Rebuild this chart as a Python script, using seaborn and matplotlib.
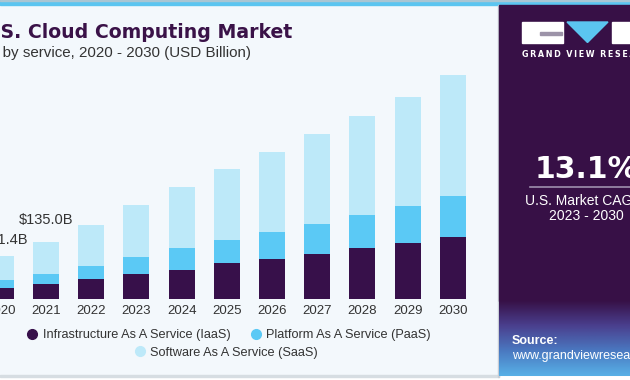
import matplotlib
matplotlib.use("Agg")
import matplotlib.pyplot as plt
import numpy as np
import pandas as pd
import seaborn as sns
from matplotlib.colors import LinearSegmentedColormap
from matplotlib.lines import Line2D
from matplotlib.patches import Polygon, Rectangle

# values (USD billion)
years = ["2020", "2021", "2022", "2023", "2024", "2025", "2026", "2027", "2028", "2029", "2030"]
iaas = [24.9, 35.2, 47.2, 59.1, 68.7, 84.7, 94.3, 107.0, 120.6, 132.6, 148.4]
paas = [19.9, 23.2, 31.1, 41.4, 51.5, 55.8, 65.3, 72.5, 79.7, 89.3, 97.4]
saas = [56.6, 76.6, 98.1, 123.8, 147.9, 169.9, 192.2, 214.7, 236.3, 261.6, 289.6]
labelled_years = ["2020", "2021"]
label_offsets = [7.0, 11.0]  # points above the bar

series_names = [
    "Infrastructure As A Service (IaaS)",
    "Platform As A Service (PaaS)",
    "Software As A Service (SaaS)",
]

IAAS_C = "#37104A"
PAAS_C = "#5BC9F5"
SAAS_C = "#BDE9F9"
BG = "#F3F8FC"
PANEL = "#371046"
TEXT = "#333333"

df = pd.DataFrame({"year": years, "iaas": iaas, "paas": paas, "saas": saas})
df["iaas_paas"] = df["iaas"] + df["paas"]
df["total"] = df["iaas_paas"] + df["saas"]

W, H = 630, 380
fig = plt.figure(figsize=(W / 100, H / 100), dpi=100)
fig.patch.set_facecolor("white")

# background layer in pixel coords (y down)
bg = fig.add_axes([0, 0, 1, 1], zorder=0)
bg.set_xlim(0, W)
bg.set_ylim(H, 0)
bg.axis("off")
bg.add_patch(Rectangle((0, 0), W, 375, color=BG))
bg.add_patch(Rectangle((0, 375), 499, 2, color="#D6DDE2"))
bg.add_patch(Rectangle((0, 0), W, 5, color="#5BC5F0"))
bg.add_patch(Rectangle((0, 0), W, 1, color="#A9C6D3"))

# stacked bars
base_px, top_px = 298.7, 60
px_per_b = 0.4178
ax = fig.add_axes([0, (H - base_px) / H, 499 / W, (base_px - top_px) / H], zorder=1)
ax.patch.set_alpha(0)
kw = dict(data=df, x="year", width=0.575, saturation=1, ax=ax, linewidth=0)
sns.barplot(y="total", color=SAAS_C, **kw)
sns.barplot(y="iaas_paas", color=PAAS_C, **kw)
sns.barplot(y="iaas", color=IAAS_C, **kw)
ax.set_xlim(-0.8 / 45.2, (499 - 0.8) / 45.2)
ax.set_ylim(0, (base_px - top_px) / px_per_b)
ax.set_xlabel("")
ax.set_ylabel("")
ax.set_yticks([])
for s in ax.spines.values():
    s.set_visible(False)
ax.tick_params(axis="x", length=0, pad=4.5, labelsize=9.5, labelcolor=TEXT)
for lab in ax.get_xticklabels():
    lab.set_fontfamily("Liberation Sans")

for yr, off in zip(labelled_years, label_offsets):
    i = years.index(yr)
    ax.annotate(f"${df['total'][i]:.1f}B", xy=(i, df["total"][i]), xytext=(0, off),
                textcoords="offset points", ha="center", va="bottom",
                fontsize=10.5, color=TEXT, family="Liberation Sans")

# title (left part cut off as in the reference)
fig.text(292 / W, 1 - 37.5 / H, "U.S. Cloud Computing Market", ha="right", va="baseline",
         fontsize=13.6, fontweight="bold", color="#3A1248", family="DejaVu Sans")
fig.text(251 / W, 1 - 57 / H, "U.S. cloud computing market size, by service, 2020 - 2030 (USD Billion)",
         ha="right", va="baseline", fontsize=10.9, color=TEXT, family="Liberation Sans")

# legend
def handle(c):
    return Line2D([], [], marker="o", linestyle="", markersize=7, markerfacecolor=c, markeredgecolor=c)

leg_kw = dict(frameon=False, handlelength=0.8, handletextpad=0.4, columnspacing=1.6,
              prop={"family": "Liberation Sans", "size": 9.2}, labelcolor=TEXT, loc="center")
fig.legend([handle(IAAS_C), handle(PAAS_C)], series_names[:2], ncol=2,
           bbox_to_anchor=(229 / W, 1 - 335 / H), **leg_kw)
fig.legend([handle(SAAS_C)], series_names[2:], ncol=1,
           bbox_to_anchor=(226.5 / W, 1 - 352.7 / H), **leg_kw)

# right panel
ov = fig.add_axes([0, 0, 1, 1], zorder=3)
ov.axis("off")
ov.patch.set_alpha(0)
ov.add_patch(Rectangle((497.5, 5), 1.5, 372, color="#C9CED6"))
ov.add_patch(Rectangle((499, 5), W - 499, 296, color=PANEL))
grad = LinearSegmentedColormap.from_list("g", [PANEL, "#4A3F8E", "#4A78C0", "#58B0E6"])
ov.imshow(np.linspace(0, 1, 80).reshape(-1, 1), cmap=grad, aspect="auto",
          extent=[499, W, 376, 300], zorder=1)
ov.set_xlim(0, W)
ov.set_ylim(H, 0)

# logo
ov.add_patch(Rectangle((522, 22), 41, 21, color="white", zorder=2))
ov.add_patch(Rectangle((540, 32), 22, 2.5, color="#9C93A8", zorder=3))
ov.add_patch(Polygon([(567, 22), (608, 22), (587.5, 42.5)], closed=True, color="#5BC5F0", zorder=2))
ov.add_patch(Rectangle((612, 22), 25, 21, color="white", zorder=2))
brand = "  ".join("\u2009".join(w) for w in ["GRAND", "VIEW", "RESEARCH"])
ov.text(522, 54.5, brand, ha="left", va="center",
        fontsize=5.8, fontweight="bold", color="white", family="DejaVu Sans", zorder=3)

ov.text(586, 178.5, "13.1%", ha="center", va="baseline", fontsize=21.5, fontweight="bold",
        color="white", family="DejaVu Sans", zorder=3)
ov.plot([530, 642], [186.7, 186.7], color="#9E90AE", lw=1.2, zorder=3)
ov.text(586, 201, "U.S. Market CAGR,", ha="center", va="center", fontsize=10,
        color="white", family="Liberation Sans", zorder=3)
ov.text(586, 216, "2023 - 2030", ha="center", va="center", fontsize=10,
        color="white", family="Liberation Sans", zorder=3)
ov.text(512, 341, "Source:", ha="left", va="center", fontsize=9, fontweight="bold",
        color="white", family="Liberation Sans", zorder=3)
ov.text(512, 356, "www.grandviewresearch.com", ha="left", va="center", fontsize=9,
        color="white", family="Liberation Sans", zorder=3)

fig.savefig("out.png", dpi=100, facecolor=fig.get_facecolor())
